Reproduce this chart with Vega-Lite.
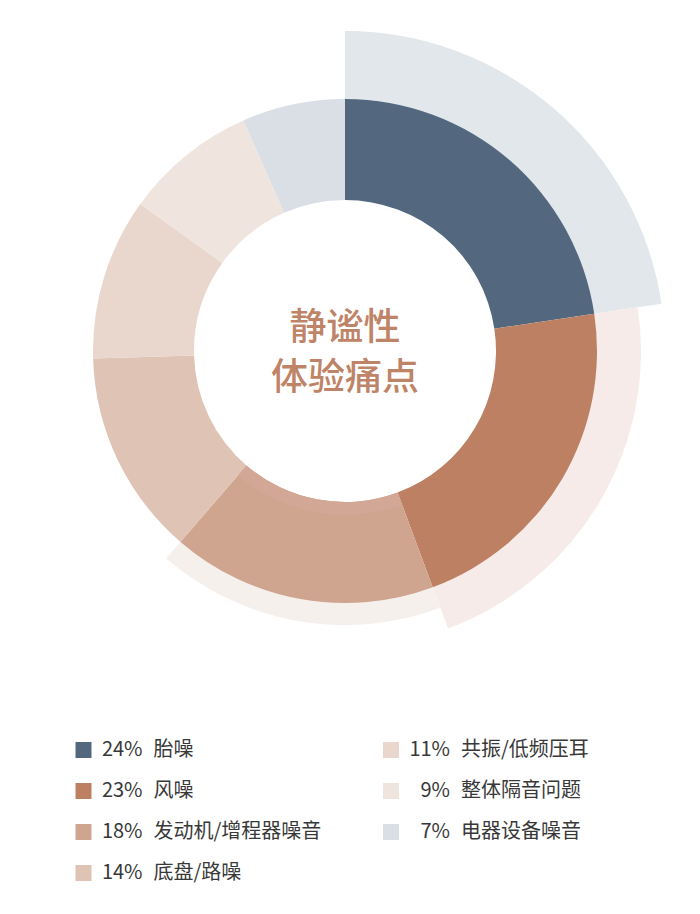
{
  "$schema": "https://vega.github.io/schema/vega-lite/v6.json",
  "description": "静谧性体验痛点 donut with legend",
  "padding": 0,
  "spacing": 0,
  "background": "white",
  "config": {"view": {"stroke": null}, "font": "Noto Sans CJK SC"},
  "datasets": {
    "pain": [
      {"cat": "胎噪", "pct": 24, "label": "24%", "order": 1, "col": 1, "row": 1},
      {"cat": "风噪", "pct": 23, "label": "23%", "order": 2, "col": 1, "row": 2},
      {"cat": "发动机/增程器噪音", "pct": 18, "label": "18%", "order": 3, "col": 1, "row": 3},
      {"cat": "底盘/路噪", "pct": 14, "label": "14%", "order": 4, "col": 1, "row": 4},
      {"cat": "共振/低频压耳", "pct": 11, "label": "11%", "order": 5, "col": 2, "row": 1},
      {"cat": "整体隔音问题", "pct": 9, "label": "9%", "order": 6, "col": 2, "row": 2},
      {"cat": "电器设备噪音", "pct": 7, "label": "7%", "order": 7, "col": 2, "row": 3}
    ]
  },
  "vconcat": [
    {
      "width": 690,
      "height": 702,
      "data": {"name": "pain"},
      "transform": [
        {"stack": "pct", "groupby": [], "sort": [{"field": "order"}], "as": ["t0", "t1"]}
      ],
      "encoding": {
        "theta": {"field": "t0", "type": "quantitative", "stack": null, "scale": {"domain": [0, 106]}},
        "theta2": {"field": "t1"}
      },
      "layer": [
        {
          "transform": [{"filter": "datum.cat === '胎噪'"}],
          "mark": {"type": "arc", "outerRadius": 320, "innerRadius": 240, "color": "#e1e7eb"}
        },
        {
          "transform": [{"filter": "datum.cat === '风噪'"}],
          "mark": {"type": "arc", "outerRadius": 296, "innerRadius": 240, "color": "#f6ebe8"}
        },
        {
          "transform": [{"filter": "datum.cat === '发动机/增程器噪音'"}],
          "mark": {"type": "arc", "outerRadius": 274, "innerRadius": 240, "color": "#f6f0ed"}
        },
        {
          "mark": {"type": "arc", "outerRadius": 252, "innerRadius": 151, "strokeWidth": 0.6},
          "encoding": {
            "color": {
              "field": "cat",
              "type": "nominal",
              "legend": null,
              "scale": {
                "domain": ["胎噪", "风噪", "发动机/增程器噪音", "底盘/路噪", "共振/低频压耳", "整体隔音问题", "电器设备噪音"],
                "range": ["#53687f", "#bd8063", "#cfa58f", "#dfc3b5", "#e9d6cd", "#f0e4de", "#dadee5"]
              }
            },
            "stroke": {"field": "cat", "type": "nominal", "legend": null, "scale": null}
          }
        },
        {
          "transform": [{"filter": "datum.cat === '发动机/增程器噪音'"}],
          "mark": {"type": "arc", "outerRadius": 164, "innerRadius": 151, "color": "#d3a796"}
        },
        {
          "data": {"values": [{"title": "静谧性\n体验痛点"}]},
          "mark": {
            "type": "text",
            "lineBreak": "\n",
            "lineHeight": 50,
            "fontSize": 37,
            "fontWeight": 500,
            "color": "#bf8467",
            "align": "center",
            "baseline": "middle",
            "dy": -22
          },
          "encoding": {"text": {"field": "title"}, "theta": null, "theta2": null}
        }
      ]
    },
    {
      "width": 700,
      "height": 212,
      "data": {"name": "pain"},
      "encoding": {
        "x": {"field": "col", "type": "quantitative", "axis": null, "scale": {"domain": [1, 2], "range": [83.5, 391]}},
        "y": {"field": "row", "type": "quantitative", "axis": null, "scale": {"domain": [1, 4], "range": [48, 171]}}
      },
      "layer": [
        {
          "mark": {"type": "point", "shape": "square", "filled": true, "size": 256, "opacity": 1},
          "encoding": {
            "color": {
              "field": "cat",
              "type": "nominal",
              "legend": null,
              "scale": {
                "domain": ["胎噪", "风噪", "发动机/增程器噪音", "底盘/路噪", "共振/低频压耳", "整体隔音问题", "电器设备噪音"],
                "range": ["#53687f", "#bd8063", "#cfa58f", "#dfc3b5", "#e9d6cd", "#f0e4de", "#dadee5"]
              }
            }
          }
        },
        {
          "mark": {"type": "text", "align": "right", "baseline": "middle", "dx": 59, "fontSize": 20, "color": "#383838"},
          "encoding": {"text": {"field": "label"}}
        },
        {
          "mark": {"type": "text", "align": "left", "baseline": "middle", "dx": 70, "fontSize": 20, "color": "#383838"},
          "encoding": {"text": {"field": "cat"}}
        }
      ]
    }
  ]
}
